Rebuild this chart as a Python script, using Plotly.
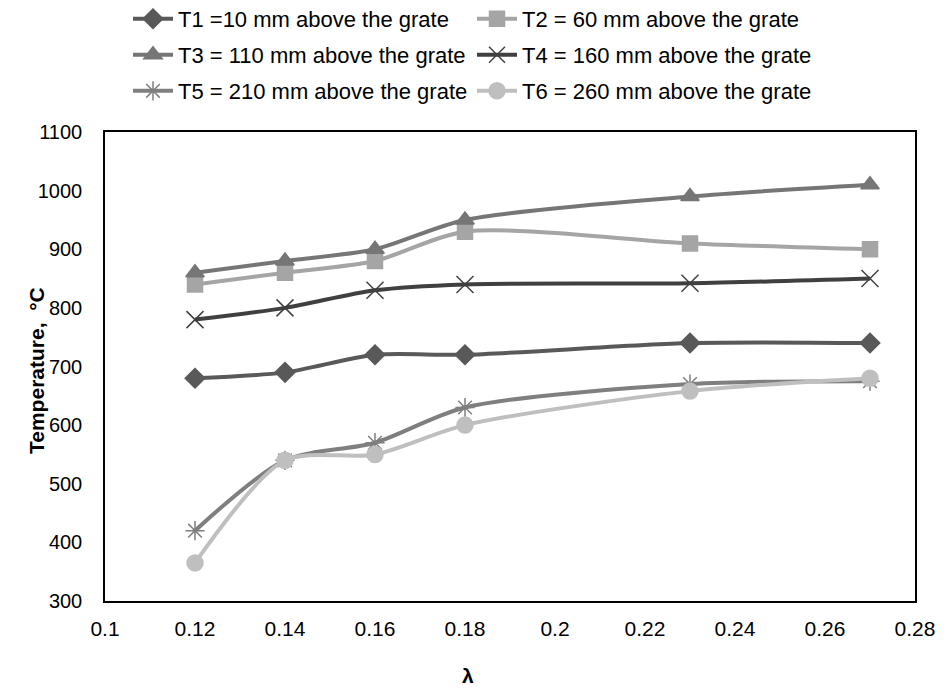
import plotly.graph_objects as go

lam = [0.12, 0.14, 0.16, 0.18, 0.23, 0.27]
T1 = [680, 690, 720, 720, 740, 740]
T2 = [840, 860, 880, 930, 910, 900]
T3 = [860, 880, 900, 950, 990, 1010]
T4 = [780, 800, 830, 840, 842, 850]
T5 = [420, 540, 570, 630, 670, 675]
T6 = [365, 540, 550, 600, 658, 680]

names = ["T1 =10 mm above the grate", "T2 = 60 mm above the grate",
         "T3 = 110 mm above the grate", "T4 = 160 mm above the grate",
         "T5 = 210 mm above the grate", "T6 = 260 mm above the grate"]
series = [T1, T2, T3, T4, T5, T6]
colors = ["#595959", "#a5a5a5", "#767676", "#404040", "#7f7f7f", "#bfbfbf"]
symbols = ["diamond", "square", "triangle-up", "x-thin-open", "asterisk-open", "circle"]
sizes = [15, 15, 16, 17, 16, 16]
legends = ["legend", "legend", "legend2", "legend2", "legend3", "legend3"]

FONT = "Liberation Sans, Arial, sans-serif"

fig = go.Figure()
for nm, ys, c, s, sz, lg in zip(names, series, colors, symbols, sizes, legends):
    fig.add_trace(go.Scatter(
        x=lam, y=ys, name=nm, mode="lines+markers",
        line=dict(color=c, width=4, shape="spline", smoothing=0.8),
        marker=dict(symbol=s, size=sz, color=c, line=dict(color=c, width=1.5)),
        legend=lg,
    ))

# page body has an 8px default margin; figure coordinates below are page pixels
OFF = 8
W, Hf = 944 - OFF, 688 - OFF
L, R, T, B = 105, 915, 132, 601
H = B - T

def leg(ypx):
    return dict(orientation="h", x=(128 - L) / (R - L), xanchor="left",
                y=(B - ypx) / H, yanchor="middle",
                font=dict(family=FONT, size=22, color="#000"),
                entrywidth=289, entrywidthmode="pixels", itemwidth=40,
                bgcolor="rgba(0,0,0,0)")

fig.update_layout(
    width=W, height=Hf,
    margin=dict(l=L - OFF, r=944 - R, t=T - OFF, b=688 - B, autoexpand=False),
    paper_bgcolor="white", plot_bgcolor="white",
    font=dict(family=FONT, size=21, color="#000"),
    showlegend=True,
    legend=leg(19), legend2=leg(55), legend3=leg(91),
    xaxis=dict(range=[0.1, 0.28], dtick=0.02, tick0=0.1, showgrid=False, zeroline=False,
               showline=True, linecolor="#000", linewidth=2, mirror=True, automargin=False,
               ticks="", ticklabelstandoff=8, tickfont=dict(size=21)),
    yaxis=dict(range=[300, 1100], dtick=100, showgrid=False, zeroline=False,
               showline=True, linecolor="#000", linewidth=1.5, mirror=True, automargin=False,
               ticks="", ticklabelstandoff=17, tickfont=dict(size=20)),
    annotations=[
        dict(text="<b>Temperature,  °C</b>", xref="paper", yref="paper",
             x=(36 - L) / (R - L), y=(B - 371) / H, textangle=-90, showarrow=False,
             xanchor="center", yanchor="middle", font=dict(size=21)),
        dict(text="<b>λ</b>", xref="paper", yref="paper",
             x=(468 - L) / (R - L), y=(B - 675) / H, showarrow=False,
             xanchor="center", yanchor="middle", font=dict(size=21)),
    ],
)

fig.write_html("out.html")
